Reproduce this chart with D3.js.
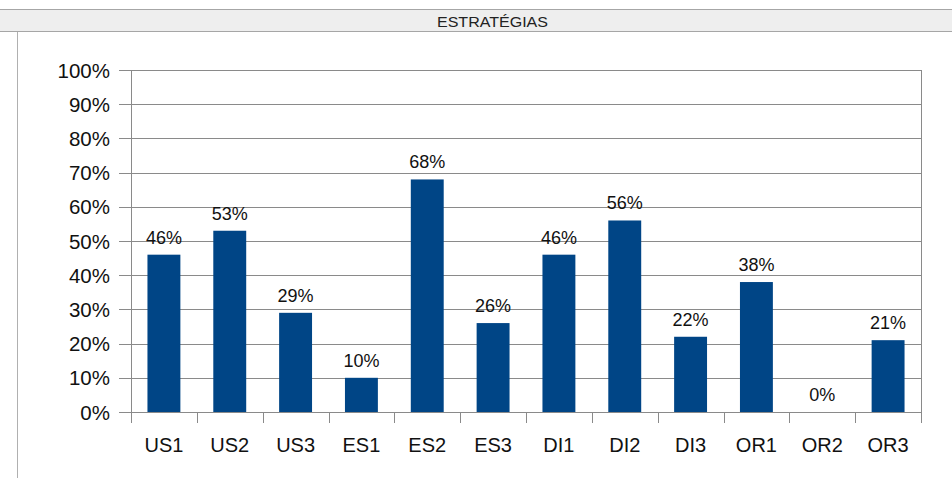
<!DOCTYPE html>
<html>
<head>
<meta charset="utf-8">
<script src="https://cdn.jsdelivr.net/npm/d3@7"></script>
<style>
  body { margin: 0; background: #fff; }
  text { font-family: "Liberation Sans", Arial, sans-serif; }
</style>
</head>
<body>
<div id="chart"></div>
<script>
var categories = ["US1", "US2", "US3", "ES1", "ES2", "ES3", "DI1", "DI2", "DI3", "OR1", "OR2", "OR3"];
var values = [0.46, 0.53, 0.29, 0.10, 0.68, 0.26, 0.46, 0.56, 0.22, 0.38, 0.00, 0.21];
var yTicks = [0, 0.1, 0.2, 0.3, 0.4, 0.5, 0.6, 0.7, 0.8, 0.9, 1.0];
var title = "ESTRATÉGIAS";

var width = 952, height = 478;
// plot area (note: "top" is taken by window.top)
var plotLeft = 131, plotRight = 921, plotTop = 70, plotBottom = 412;

var svg = d3.select("#chart").append("svg")
  .attr("width", width)
  .attr("height", height);

// header band
svg.append("rect")
  .attr("x", -1).attr("y", 9.5)
  .attr("width", width + 2).attr("height", 22)
  .attr("fill", "#eeeeee")
  .attr("stroke", "#a6a6a6");

svg.append("text")
  .attr("x", 492.5).attr("y", 27)
  .attr("text-anchor", "middle")
  .style("font-size", "15px")
  .attr("textLength", 111)
  .attr("lengthAdjust", "spacingAndGlyphs")
  .attr("fill", "#222")
  .text(title);

// left border line
svg.append("line")
  .attr("x1", 17.5).attr("x2", 17.5)
  .attr("y1", 32).attr("y2", height)
  .attr("stroke", "#b0b0b0");

var x = d3.scaleBand().domain(categories).range([plotLeft, plotRight]);
var y = d3.scaleLinear().domain([0, 1]).range([plotBottom, plotTop]);

// gridlines
svg.append("g")
  .selectAll("line")
  .data(yTicks)
  .enter()
  .append("line")
  .attr("x1", plotLeft - 12)
  .attr("x2", plotRight)
  .attr("y1", function (d) { return Math.round(y(d)) + 0.5; })
  .attr("y2", function (d) { return Math.round(y(d)) + 0.5; })
  .attr("stroke", "#8a8a8a")
  .attr("stroke-width", 1);

// y labels
svg.append("g")
  .selectAll("text")
  .data(yTicks)
  .enter()
  .append("text")
  .attr("x", 110)
  .attr("y", function (d) { return y(d) + 7.5; })
  .attr("text-anchor", "end")
  .style("font-size", "20.5px")
  .attr("fill", "#111")
  .text(function (d) { return Math.round(d * 100) + "%"; });

// plot frame left/right
svg.append("line")
  .attr("x1", plotLeft + 0.5).attr("x2", plotLeft + 0.5)
  .attr("y1", plotTop).attr("y2", plotBottom + 11)
  .attr("stroke", "#8a8a8a");
svg.append("line")
  .attr("x1", plotRight + 0.5).attr("x2", plotRight + 0.5)
  .attr("y1", plotTop).attr("y2", plotBottom + 11)
  .attr("stroke", "#8a8a8a");

// x ticks between categories
svg.append("g")
  .selectAll("line")
  .data(categories.slice(1))
  .enter()
  .append("line")
  .attr("x1", function (d) { return Math.round(x(d)) + 0.5; })
  .attr("x2", function (d) { return Math.round(x(d)) + 0.5; })
  .attr("y1", plotBottom)
  .attr("y2", plotBottom + 11)
  .attr("stroke", "#8a8a8a");

// bars
var barW = x.bandwidth() * 0.5;
svg.append("g")
  .selectAll("rect")
  .data(values)
  .enter()
  .append("rect")
  .attr("x", function (d, i) { return x(categories[i]) + (x.bandwidth() - barW) / 2; })
  .attr("y", function (d) { return y(d); })
  .attr("width", barW)
  .attr("height", function (d) { return plotBottom - y(d); })
  .attr("fill", "#004586");

// value labels
svg.append("g")
  .selectAll("text")
  .data(values)
  .enter()
  .append("text")
  .attr("x", function (d, i) { return x(categories[i]) + x.bandwidth() / 2; })
  .attr("y", function (d) { return y(d) - 11; })
  .attr("text-anchor", "middle")
  .style("font-size", "18px")
  .attr("fill", "#111")
  .text(function (d) { return Math.round(d * 100) + "%"; });

// category labels
svg.append("g")
  .selectAll("text")
  .data(categories)
  .enter()
  .append("text")
  .attr("x", function (d) { return x(d) + x.bandwidth() / 2; })
  .attr("y", 452)
  .attr("text-anchor", "middle")
  .style("font-size", "20px")
  .attr("fill", "#111")
  .text(function (d) { return d; });
</script>
</body>
</html>
